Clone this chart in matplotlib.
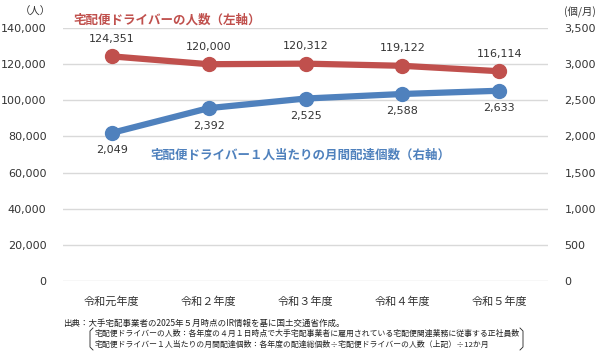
import matplotlib
matplotlib.use("Agg")
import matplotlib.pyplot as plt
from matplotlib.lines import Line2D

plt.rcParams['font.family'] = ['Noto Sans CJK JP', 'DejaVu Sans']

years = ["令和元年度", "令和２年度", "令和３年度", "令和４年度", "令和５年度"]
drivers = [124351, 120000, 120312, 119122, 116114]
parcels = [2049, 2392, 2525, 2588, 2633]
left_ticks = [0, 20000, 40000, 60000, 80000, 100000, 120000, 140000]
right_ticks = [0, 500, 1000, 1500, 2000, 2500, 3000, 3500]

red = "#C0504D"
blue = "#4F81BD"
num_font = ['DejaVu Sans']

fig = plt.figure(figsize=(6.02, 3.51), dpi=100)
ax = fig.add_axes([0.105, 0.1994, 0.805, 0.7206])
ax2 = ax.twinx()

x = range(len(years))
ax.plot(x, drivers, color=red, lw=4.5, marker="o", ms=10, zorder=3)
ax2.plot(x, parcels, color=blue, lw=4.5, marker="o", ms=10, zorder=3)

ax.set_xlim(-0.5, 4.5)
ax.set_ylim(0, 140000)
ax2.set_ylim(0, 3500)
ax.set_yticks(left_ticks)
ax.set_yticklabels([f"{v:,}" for v in left_ticks], family=num_font, fontsize=8, color="#333333")
ax2.set_yticks(right_ticks)
ax2.set_yticklabels([f"{v:,}" for v in right_ticks], family=num_font, fontsize=8, color="#333333")
ax.set_xticks(list(x))
ax.set_xticklabels(years, fontsize=8, color="#333333")
ax.grid(axis="y", color="#D9D9D9", lw=1)
ax.set_axisbelow(True)
for a in (ax, ax2):
    for s in a.spines.values():
        s.set_visible(False)
    a.tick_params(length=0)
ax.tick_params(axis="y", pad=12)
ax2.tick_params(axis="y", pad=12)
ax.tick_params(axis="x", pad=11)

for i, v in enumerate(drivers):
    ax.annotate(f"{v:,}", (i, v), xytext=(0, 9), textcoords="offset points",
                ha="center", va="bottom", fontsize=8, family=num_font, color="#333333")
for i, v in enumerate(parcels):
    ax2.annotate(f"{v:,}", (i, v), xytext=(0, -9), textcoords="offset points",
                 ha="center", va="top", fontsize=8, family=num_font, color="#333333")

fig.text(73 / 602, 1 - 20 / 351, "宅配便ドライバーの人数（左軸）", color=red,
         fontsize=9, weight="bold", va="center", ha="left")
fig.text(150 / 602, 1 - 155 / 351, "宅配便ドライバー１人当たりの月間配達個数（右軸）", color=blue,
         fontsize=9, weight="bold", va="center", ha="left")
fig.text(35 / 602, 1 - 12 / 351, "（人）", fontsize=7.5, color="#333333", va="center", ha="center")
fig.text(580 / 602, 1 - 12 / 351, "(個/月)", fontsize=7.5, color="#333333", va="center", ha="center")

fig.text(63 / 602, 1 - 323 / 351, "出典：大手宅配事業者の2025年５月時点のIR情報を基に国土交通省作成。",
         fontsize=6.1, color="#222222", va="center")
fig.text(95 / 602, 1 - 334 / 351,
         "宅配便ドライバーの人数：各年度の４月１日時点で大手宅配事業者に雇用されている宅配便関連業務に従事する正社員数",
         fontsize=5.65, color="#222222", va="center")
fig.text(95 / 602, 1 - 345 / 351,
         "宅配便ドライバー１人当たりの月間配達個数：各年度の配達総個数÷宅配便ドライバーの人数（上記）÷12か月",
         fontsize=5.65, color="#222222", va="center")
# brackets around the notes
for xs in ([93, 90, 90, 93], [520, 523, 523, 520]):
    ys = [328, 331, 347, 350]
    fig.add_artist(Line2D([v / 602 for v in xs], [1 - v / 351 for v in ys],
                          color="#222222", lw=0.6, transform=fig.transFigure))

fig.savefig("out.png", dpi=100)
